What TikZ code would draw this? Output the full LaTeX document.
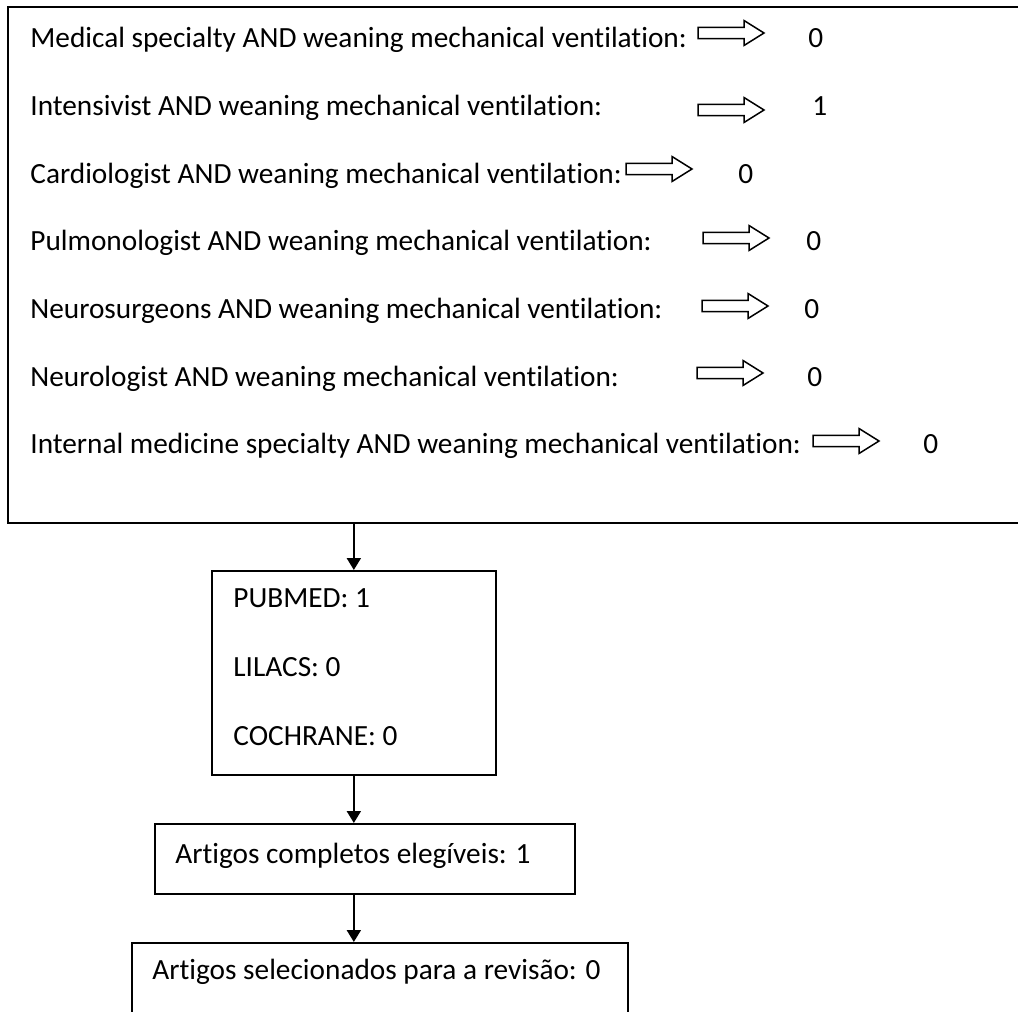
\documentclass[tikz,border=0pt]{standalone}
\usepackage{fontspec}
\setmainfont{Carlito}[RawFeature={-liga;-clig;-calt}]
\usetikzlibrary{arrows.meta,shapes.arrows}

\begin{document}
\begin{tikzpicture}[
	x=0.5pt, y=-0.5pt,
	font=\fontsize{14.65}{17}\selectfont,
	txt/.style={anchor=base west, inner sep=0pt},
	gives/.style={single arrow, draw, line width=0.75pt, anchor=west,
		inner xsep=0pt, inner ysep=2.4pt, outer sep=0pt,
		single arrow head extend=3.4pt, single arrow tip angle=64,
		minimum height=33pt},
	box/.style={draw, line width=0.85pt, anchor=north west, inner sep=0pt},
	link/.style={line width=1pt, -{Triangle[length=6pt,width=7pt]}},
	]
\useasboundingbox (0,0) rectangle (1018,1012);
\clip (0,0) rectangle (1018,1012);

% the right side of this one lies off the page
\node [anchor=north west, inner sep=0pt, minimum width=540pt, minimum height=257.5pt] (search) at (8,7) {};
\draw [line width=0.85pt] (search.north east) -- (search.north west) -- (search.south west) -- (search.south east);

\node [txt] (t1) at (30,47) {Medical specialty AND weaning mechanical ventilation:};
\node [gives] (a1) at (698,33) {};
\node [txt] (n1) at (808,47) {0};

\node [txt] (t2) at (30,115) {Intensivist AND weaning mechanical ventilation:};
\node [gives] (a2) at (698,110) {};
\node [txt] (n2) at (812,115) {1};

\node [txt] (t3) at (30,183) {Cardiologist AND weaning mechanical ventilation:};
\node [gives] (a3) at (626,169) {};
\node [txt] (n3) at (738,183) {0};

\node [txt] (t4) at (30,250) {Pulmonologist AND weaning mechanical ventilation:};
\node [gives] (a4) at (703,238) {};
\node [txt] (n4) at (806,250) {0};

\node [txt] (t5) at (30,318) {Neurosurgeons AND weaning mechanical ventilation:};
\node [gives] (a5) at (702,306) {};
\node [txt] (n5) at (804,318) {0};

\node [txt] (t6) at (30,386) {Neurologist AND weaning mechanical ventilation:};
\node [gives] (a6) at (697,373) {};
\node [txt] (n6) at (807,386) {0};

\node [txt] (t7) at (30,453) {Internal medicine specialty AND weaning mechanical ventilation:};
\node [gives] (a7) at (813,441) {};
\node [txt] (n7) at (923,453) {0};

\node [box, minimum width=142pt, minimum height=102pt] (bases) at (211,570) {};
\node [txt] (pubmed) at (233,607) {PUBMED: 1};
\node [txt] (lilacs) at (233,676) {LILACS: 0};
\node [txt] (cochrane) at (233,745) {COCHRANE: 0};

\node [box, minimum width=210pt, minimum height=35pt] (elig) at (154,823) {};
\node [txt] (eligtxt) at (175,863) {Artigos completos elegíveis: 1};

\node [box, minimum width=248pt, minimum height=50pt] (sel) at (131,942) {};
\node [txt] (seltxt) at (152,979) {Artigos selecionados para a revisão: 0};

\draw [link] (bases.north |- search.south) -- (bases.north);
\draw [link] (bases.south) -- (bases.south |- elig.north);
\draw [link] (bases.south |- elig.south) -- (bases.south |- sel.north);
\end{tikzpicture}
\end{document}
